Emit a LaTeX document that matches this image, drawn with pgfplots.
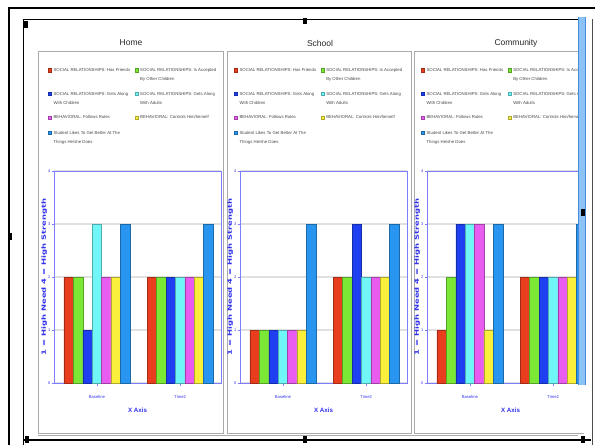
\documentclass[border=0pt]{standalone}
\usepackage{fontspec}
\setmainfont{Liberation Sans}
\newfontfamily\lblfont{DejaVu Sans}
\usepackage{pgfplots}
\usepackage{pgfplotstable}
\pgfplotsset{compat=1.18}

\definecolor{c1}{RGB}{232,62,30}
\definecolor{c2}{RGB}{122,232,52}
\definecolor{c3}{RGB}{30,64,240}
\definecolor{c4}{RGB}{112,246,246}
\definecolor{c5}{RGB}{232,92,240}
\definecolor{c6}{RGB}{250,240,60}
\definecolor{c7}{RGB}{40,150,240}
\definecolor{axcol}{RGB}{125,125,255}
\definecolor{lblcol}{RGB}{50,50,235}
\definecolor{legtxt}{RGB}{70,70,70}
\definecolor{panelgray}{RGB}{170,170,170}
\definecolor{sbar}{RGB}{140,195,245}
\definecolor{sbaredge}{RGB}{70,140,225}

\pgfplotstableread{
x s1 s2 s3 s4 s5 s6 s7
0 2 2 1 3 2 2 3
1 2 2 2 2 2 2 3
}\homedata
\pgfplotstableread{
x s1 s2 s3 s4 s5 s6 s7
0 1 1 1 1 1 1 3
1 2 2 3 2 2 2 3
}\schooldata
\pgfplotstableread{
x s1 s2 s3 s4 s5 s6 s7
0 1 2 3 3 3 1 3
1 2 2 2 2 2 2 3
}\communitydata

\newcommand{\legA}[1]{\parbox[t][15.5pt][t]{79pt}{\raggedright #1}}
\newcommand{\legB}[1]{\parbox[t][7pt][t]{79pt}{\raggedright #1}}

\pgfplotsset{
  panel/.style={
    scale only axis, width=167pt, height=212pt, anchor=south west,
    xmin=-0.515, xmax=1.49, ymin=0, ymax=4,
    ybar=0pt, bar width=9.4pt,
    xtick={0,1}, xticklabels={Baseline,Time2},
    ytick={0,1,2,3,4},
    ymajorgrids, grid style={line width=1.3pt, black!12},
    axis line style={axcol, line width=0.9pt},
    tick style={axcol, line width=0.5pt},
    major tick length=2.5pt, tick align=outside, tick pos=left,
    /pgf/number format/assume math mode=true,
    x tick label style={font=\fontsize{4.2}{4.2}\selectfont, text=lblcol, inner sep=1pt, yshift=-9pt},
    y tick label style={font=\fontsize{4}{4}\selectfont, text=lblcol, inner sep=1pt},
    xlabel={X Axis},
    xlabel style={at={(axis description cs:0.5,-0.127)}, anchor=center,
      font=\bfseries\fontsize{6.2}{6.2}\selectfont, text=lblcol},
    ylabel={1 = High Need 4 = High Strength},
    ylabel style={at={(axis description cs:-0.058,0.5)}, anchor=center, xscale=1.45,
      font=\lblfont\bfseries\fontsize{5.8}{5.8}\selectfont, text=lblcol},
    legend columns=2,
    legend style={at={(axis description cs:-0.056,1.505)}, anchor=north west,
      draw=none, fill=none, text=legtxt,
      font=\fontsize{4.3}{9}\selectfont,
      nodes={text depth=},
      cells={anchor=base west, inner sep=0.6pt},
      row sep=4.3pt},
  },
  legbox/.style={legend image code/.code={\draw[#1,line width=0.3pt] (0pt,-0.4pt) rectangle (3.4pt,3pt);}},
  b1/.style={fill=c1, draw=c1!70!black, line width=0.4pt},
  b2/.style={fill=c2, draw=c2!70!black, line width=0.4pt},
  b3/.style={fill=c3, draw=c3!70!black, line width=0.4pt},
  b4/.style={fill=c4, draw=c4!70!black, line width=0.4pt},
  b5/.style={fill=c5, draw=c5!70!black, line width=0.4pt},
  b6/.style={fill=c6, draw=c6!70!black, line width=0.4pt},
  b7/.style={fill=c7, draw=c7!70!black, line width=0.4pt},
}

\newcommand{\panelplots}[1]{%
  \addplot[b1] table[x=x,y=s1]{#1};
  \addlegendentry{\legA{SOCIAL RELATIONSHIPS: Has Friends}}
  \addplot[b2] table[x=x,y=s2]{#1};
  \addlegendentry{\legA{SOCIAL RELATIONSHIPS: Is Accepted\\By Other Children}}
  \addplot[b3] table[x=x,y=s3]{#1};
  \addlegendentry{\legA{SOCIAL RELATIONSHIPS: Gets Along\\With Children}}
  \addplot[b4] table[x=x,y=s4]{#1};
  \addlegendentry{\legA{SOCIAL RELATIONSHIPS: Gets Along\\With Adults}}
  \addplot[b5] table[x=x,y=s5]{#1};
  \addlegendentry{\legB{BEHAVIORAL: Follows Rules}}
  \addplot[b6] table[x=x,y=s6]{#1};
  \addlegendentry{\legB{BEHAVIORAL: Controls Him/herself}}
  \addplot[b7] table[x=x,y=s7]{#1};
  \addlegendentry{\legA{Student Likes To Get Better At The\\Things He/she Does}}
}

\begin{document}
\begin{tikzpicture}[x=1pt,y=1pt]
\useasboundingbox (0,0) rectangle (595,445);
% frames
\draw[black, line width=2.2pt] (9,0) -- (9,437) -- (595,437);
\draw[black, line width=0.7pt] (23,0) -- (23,426) -- (592,426) -- (592,0);
% panels
\draw[panelgray, line width=1pt] (38,12) rectangle (223,393);
\draw[panelgray, line width=1pt] (227,12) rectangle (411,393);
\draw[panelgray, line width=1pt] (414,12) rectangle (590,393);
\node[font=\fontsize{8.5}{8.5}\selectfont, text=black!85] at (131,402) {Home};
\node[font=\fontsize{8.5}{8.5}\selectfont, text=black!85] at (320,402) {School};
\node[font=\fontsize{8.5}{8.5}\selectfont, text=black!85] at (516,402) {Community};

\begin{axis}[panel, legbox, at={(54pt,62pt)}]
\panelplots{\homedata}
\end{axis}
\begin{axis}[panel, legbox, at={(240pt,62pt)}]
\panelplots{\schooldata}
\end{axis}
\begin{axis}[panel, legbox, at={(427pt,62pt)}]
\panelplots{\communitydata}
\end{axis}

% right side: window edge and scrollbar
\fill[white] (584,0) rectangle (595,430);
\fill[sbar] (578,60) rectangle (585,428);
\draw[sbaredge, line width=0.6pt] (578,60) -- (578,428);
\draw[sbaredge, line width=0.6pt] (585,60) -- (585,428);
\draw[black!70, line width=0.7pt] (592,0) -- (592,426);
% bottom strip
\fill[white] (24,0) rectangle (591,10);
\draw[black, line width=1.6pt] (24,5) -- (591,5);
\draw[panelgray, line width=0.6pt] (38,10) -- (578,10);
% selection handles
\fill[black] (24,417) rectangle (28,424);
\fill[black] (303,421) rectangle (307,427);
\fill[black] (8,205) rectangle (12,212);
\fill[black] (581,229) rectangle (585,236);
\fill[black] (25,2) rectangle (29,9);
\fill[black] (303,2) rectangle (307,9);
\fill[black] (581,2) rectangle (585,9);
\end{tikzpicture}
\end{document}
